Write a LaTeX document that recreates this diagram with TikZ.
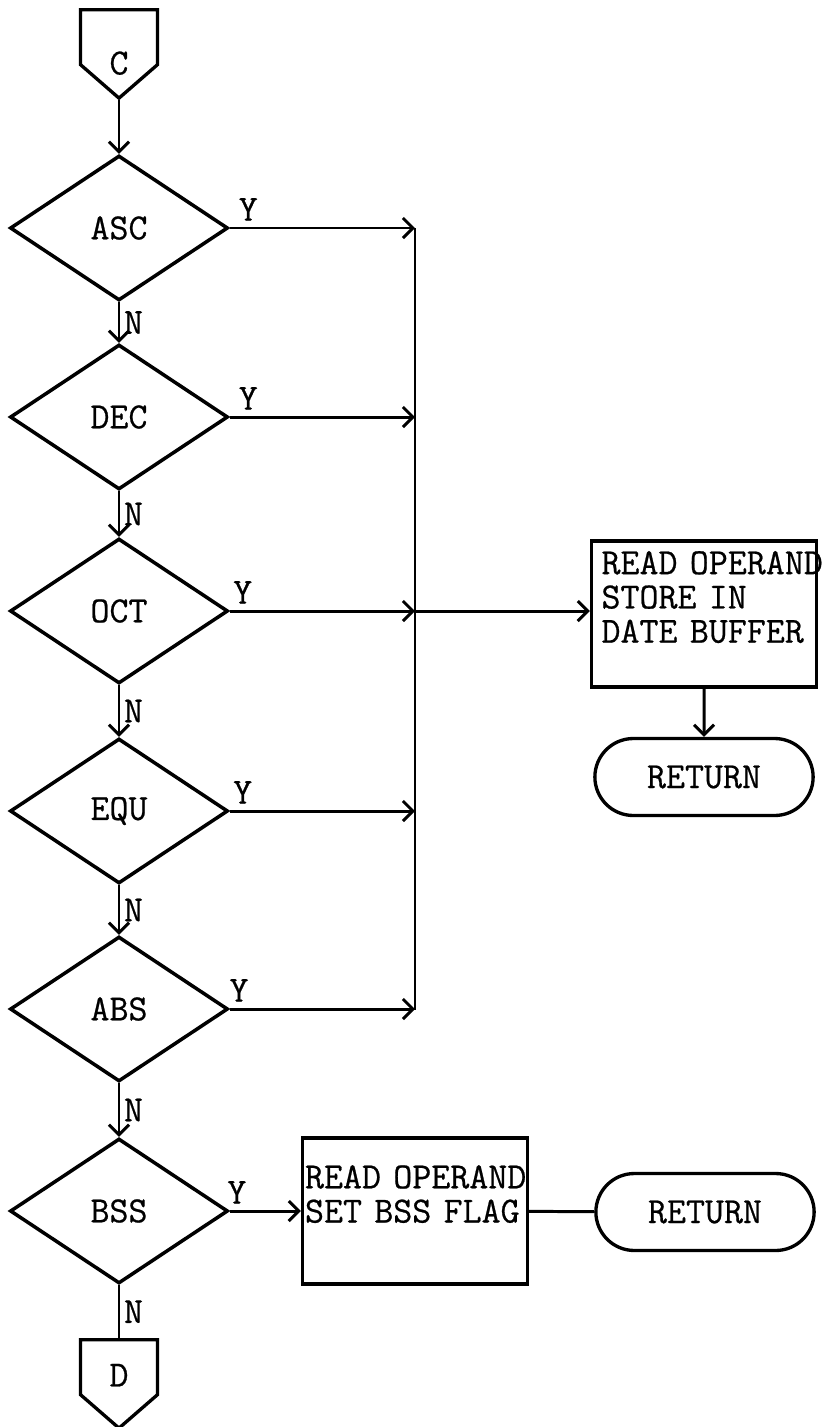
\documentclass[tikz,border=0pt]{standalone}
\usepackage{fontspec}
\newfontfamily\flowfont[FakeBold=0.6]{Latin Modern Mono}
\usetikzlibrary{arrows.meta, positioning, shapes.geometric, shapes.misc, shapes.symbols}

\begin{document}
\begin{tikzpicture}[
    x=0.02cm, y=-0.02cm,
    every node/.style={font=\flowfont\fontsize{21}{19.5}\selectfont},
    dec/.style={draw, line width=2pt, diamond, minimum width=4.36cm, minimum height=2.9cm, inner sep=0pt},
    proc/.style={draw, line width=1.9pt, minimum width=4.5cm, minimum height=2.92cm, align=left, text width=4.1cm, inner xsep=0.2cm},
    term/.style={draw, line width=1.9pt, rounded rectangle, minimum width=4.6cm, minimum height=1.54cm},
    conn/.style={draw, line width=1.9pt, signal, signal to=south, signal from=nowhere, signal pointer angle=98, minimum width=1.54cm, minimum height=1.1cm, inner sep=0pt, anchor=north},
    arr/.style={-{Straight Barb[length=2mm, width=4mm]}, line width=1.7pt},
    ln/.style={line width=1.7pt}
  ]
    \useasboundingbox (0,0) rectangle (831,1427);

    \node[conn, label={[yshift=-0.52cm]center:C}] (c) at (119,8) {};
    \node[dec] (asc) at (119,228) {ASC};
    \node[dec] (dec) at (119,417) {DEC};
    \node[dec] (oct) at (119,611) {OCT};
    \node[dec] (equ) at (119,811) {EQU};
    \node[dec] (abs) at (119,1009) {ABS};
    \node[dec] (bss) at (119,1211) {BSS};
    \node[conn, label={[yshift=-0.16cm]center:D}] (d) at (119,1338) {};

    \node[proc] (store) at (704,614) {READ~OPERAND\\STORE IN\\DATE BUFFER\\~};
    \node[term] (ret1) at (704,777) {RETURN};
    \node[proc, text width=4.4cm, inner xsep=0.05cm] (setbss) at (415,1211) {READ~OPERAND\\SET~BSS~FLAG\\~};
    \node[term] (ret2) at (705,1212) {RETURN};

    \coordinate (bustop) at (415,228);
    \coordinate (busbot) at (415,1010);

    % main chain
    \draw[arr] (c.south) -- (asc.north);
    \draw[arr] (asc) -- node[right, inner sep=2pt]{N} (dec);
    \draw[arr] (dec) -- node[right, inner sep=2pt]{N} (oct);
    \draw[arr] (oct) -- node[right, inner sep=2pt]{N} (equ);
    \draw[arr] (equ) -- node[right, inner sep=2pt]{N} (abs);
    \draw[arr] (abs) -- node[right, inner sep=2pt]{N} (bss);
    \draw[ln] (bss) -- node[right, inner sep=2pt]{N} (d.north);

    % yes branches
    \draw[ln] (bustop) -- (busbot);
    \draw[arr] (asc.east) -- node[pos=0.1, above]{Y} (asc.east -| bustop);
    \draw[arr] (dec.east) -- node[pos=0.1, above]{Y} (dec.east -| bustop);
    \draw[arr] (oct.east) -- node[pos=0.07, above]{Y} (oct.east -| bustop);
    \draw[arr] (equ.east) -- node[pos=0.07, above]{Y} (equ.east -| bustop);
    \draw[arr] (abs.east) -- node[pos=0.05, above]{Y} (abs.east -| bustop);
    \draw[arr] (oct.east -| bustop) -- (oct.east -| store.west);
    \draw[arr] (store) -- (ret1);
    \draw[arr] (bss.east) -- node[pos=0.1, above]{Y} (setbss.west);
    \draw[ln] (setbss) -- (ret2);
  \end{tikzpicture}
\end{document}
